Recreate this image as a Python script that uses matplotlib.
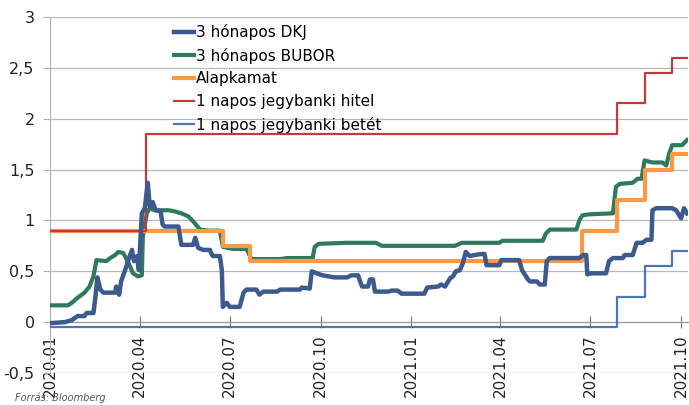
#!/usr/bin/env python
#-*- coding: utf-8 -*-
import matplotlib
matplotlib.use('Agg')
import matplotlib.pyplot as plt
import matplotlib.dates as mdates
import pandas as pd

# 3 honapos DKJ
dkj_dates=['2020-01-01', '2020-01-16', '2020-01-23', '2020-01-29', '2020-02-05', '2020-02-07', '2020-02-14',
           '2020-02-16', '2020-02-18', '2020-02-21', '2020-02-24', '2020-03-07', '2020-03-08', '2020-03-11',
           '2020-03-13', '2020-03-17', '2020-03-20', '2020-03-24', '2020-03-26', '2020-03-29', '2020-03-31',
           '2020-04-03', '2020-04-06', '2020-04-09', '2020-04-11', '2020-04-14', '2020-04-17', '2020-04-22',
           '2020-04-24', '2020-04-26', '2020-05-10', '2020-05-13', '2020-05-25', '2020-05-27', '2020-05-30',
           '2020-06-04', '2020-06-11', '2020-06-12', '2020-06-14', '2020-06-21', '2020-06-23', '2020-06-24',
           '2020-06-28', '2020-07-01', '2020-07-11', '2020-07-15', '2020-07-18', '2020-07-28', '2020-07-31',
           '2020-08-04', '2020-08-18', '2020-08-21', '2020-09-10', '2020-09-12', '2020-09-20', '2020-09-22',
           '2020-09-27', '2020-10-03', '2020-10-15', '2020-10-28', '2020-11-01', '2020-11-08', '2020-11-10',
           '2020-11-12', '2020-11-18', '2020-11-20', '2020-11-23', '2020-11-25', '2020-12-08', '2020-12-12',
           '2020-12-18', '2020-12-22', '2021-01-14', '2021-01-17', '2021-01-28', '2021-01-31', '2021-02-04',
           '2021-02-09', '2021-02-12', '2021-02-15', '2021-02-19', '2021-02-22', '2021-02-25', '2021-03-01',
           '2021-03-06', '2021-03-13', '2021-03-16', '2021-03-18', '2021-03-31', '2021-04-02', '2021-04-20',
           '2021-04-23', '2021-04-29', '2021-05-01', '2021-05-08', '2021-05-11', '2021-05-16', '2021-05-18',
           '2021-05-21', '2021-06-20', '2021-06-24', '2021-06-27', '2021-06-28', '2021-07-02', '2021-07-17',
           '2021-07-20', '2021-07-24', '2021-08-03', '2021-08-05', '2021-08-13', '2021-08-17', '2021-08-23',
           '2021-08-27', '2021-09-01', '2021-09-02', '2021-09-06', '2021-09-22', '2021-09-26', '2021-10-01',
           '2021-10-04', '2021-10-07']
dkj_vals=[-0.01, 0.0, 0.02, 0.06, 0.06, 0.09, 0.09,
          0.25, 0.44, 0.32, 0.29, 0.29, 0.35, 0.27,
          0.40, 0.51, 0.60, 0.71, 0.60, 0.65, 0.51,
          1.07, 1.12, 1.37, 1.14, 1.18, 1.10, 1.09,
          0.96, 0.94, 0.94, 0.76, 0.76, 0.83, 0.73,
          0.71, 0.71, 0.68, 0.65, 0.65, 0.51, 0.15,
          0.19, 0.15, 0.15, 0.29, 0.32, 0.32, 0.27,
          0.30, 0.30, 0.32, 0.32, 0.34, 0.33, 0.50,
          0.48, 0.46, 0.44, 0.44, 0.46, 0.46, 0.40,
          0.35, 0.35, 0.42, 0.42, 0.30, 0.30, 0.31,
          0.31, 0.28, 0.28, 0.34, 0.35, 0.37, 0.35,
          0.43, 0.45, 0.50, 0.51, 0.58, 0.69, 0.65,
          0.66, 0.67, 0.67, 0.56, 0.56, 0.61, 0.61,
          0.51, 0.42, 0.40, 0.40, 0.37, 0.37, 0.60,
          0.63, 0.63, 0.66, 0.66, 0.47, 0.48, 0.48,
          0.60, 0.63, 0.63, 0.66, 0.66, 0.78, 0.78,
          0.81, 0.81, 1.10, 1.12, 1.12, 1.10, 1.02,
          1.12, 1.07]

# 3 honapos BUBOR
bubor_dates=['2020-01-01', '2020-01-19', '2020-01-23', '2020-01-29', '2020-02-05', '2020-02-10', '2020-02-14',
             '2020-02-17', '2020-02-27', '2020-03-02', '2020-03-07', '2020-03-10', '2020-03-15', '2020-03-18',
             '2020-03-22', '2020-03-25', '2020-03-30', '2020-04-03', '2020-04-04', '2020-04-08', '2020-04-11',
             '2020-04-16', '2020-04-30', '2020-05-06', '2020-05-13', '2020-05-20', '2020-05-25', '2020-06-01',
             '2020-06-09', '2020-06-21', '2020-06-24', '2020-07-04', '2020-07-18', '2020-07-23', '2020-08-21',
             '2020-08-28', '2020-09-23', '2020-09-25', '2020-09-29', '2020-10-27', '2020-11-26', '2020-12-02',
             '2021-02-14', '2021-02-21', '2021-03-31', '2021-04-03', '2021-05-14', '2021-05-17', '2021-05-21',
             '2021-06-17', '2021-06-20', '2021-06-23', '2021-06-30', '2021-07-24', '2021-07-27', '2021-07-31',
             '2021-08-13', '2021-08-18', '2021-08-22', '2021-08-25', '2021-09-02', '2021-09-12', '2021-09-16',
             '2021-09-19', '2021-09-22', '2021-10-02', '2021-10-07']
bubor_vals=[0.165, 0.165, 0.19, 0.24, 0.29, 0.35, 0.45,
            0.61, 0.60, 0.63, 0.66, 0.69, 0.68, 0.63,
            0.55, 0.48, 0.45, 0.46, 0.84, 1.07, 1.12,
            1.10, 1.10, 1.09, 1.07, 1.04, 0.99, 0.91,
            0.90, 0.90, 0.74, 0.72, 0.72, 0.62, 0.62,
            0.63, 0.63, 0.74, 0.77, 0.78, 0.78, 0.75,
            0.75, 0.78, 0.78, 0.80, 0.80, 0.87, 0.91,
            0.91, 1.00, 1.05, 1.06, 1.07, 1.33, 1.36,
            1.37, 1.41, 1.41, 1.59, 1.57, 1.57, 1.54,
            1.66, 1.74, 1.74, 1.79]

# Alapkamat
base_dates=['2020-01-01', '2020-06-24', '2020-07-22', '2021-06-23', '2021-07-28', '2021-08-25', '2021-09-22', '2021-10-08']
base_vals=[0.9, 0.75, 0.6, 0.9, 1.2, 1.5, 1.65, 1.65]

# 1 napos jegybanki hitel
lend_dates=['2020-01-01', '2020-04-07', '2021-07-28', '2021-08-25', '2021-09-22', '2021-10-08']
lend_vals=[0.9, 1.85, 2.15, 2.45, 2.6, 2.6]

# 1 napos jegybanki betet
dep_dates=['2020-01-01', '2021-07-28', '2021-08-25', '2021-09-22', '2021-10-08']
dep_vals=[-0.05, 0.25, 0.55, 0.7, 0.7]

xtick_dates=['2020-01-01', '2020-04-01', '2020-07-01', '2020-10-01', '2021-01-01', '2021-04-01', '2021-07-01', '2021-10-01']
yticks=[-0.5, 0, 0.5, 1, 1.5, 2, 2.5, 3]

def drawChart():
    plt.rcParams['font.family']=['DejaVu Sans']
    fig=plt.figure(figsize=(6.89, 4.05), dpi=100)
    ax=fig.add_axes([50/689., 32/405., 638/689., 356/405.])

    ax.plot(pd.to_datetime(dkj_dates), dkj_vals, color='#3d5a8e', linewidth=3.2, label='3 hónapos DKJ', zorder=5)
    ax.plot(pd.to_datetime(bubor_dates), bubor_vals, color='#2f7a5c', linewidth=3.0, label='3 hónapos BUBOR', zorder=3)
    ax.plot(pd.to_datetime(base_dates), base_vals, color='#fb9a45', linewidth=3.0, drawstyle='steps-post', label='Alapkamat', zorder=4)
    ax.plot(pd.to_datetime(lend_dates), lend_vals, color='#c23b3b', linewidth=1.6, drawstyle='steps-post', label='1 napos jegybanki hitel', zorder=4)
    ax.plot(pd.to_datetime(dep_dates), dep_vals, color='#4a78b5', linewidth=1.6, drawstyle='steps-post', label='1 napos jegybanki betét', zorder=4)

    ax.set_xlim(pd.Timestamp('2020-01-01'), pd.Timestamp('2021-10-08'))
    ax.set_ylim(-0.5, 3)
    ax.set_yticks(yticks)
    ax.set_yticklabels([('%g'%v).replace('.', ',') for v in yticks])
    ax.set_xticks(pd.to_datetime(xtick_dates))
    ax.xaxis.set_major_formatter(mdates.DateFormatter('%Y.%m'))
    ax.tick_params(axis='x', labelrotation=90, labelsize=11, labelcolor='#222222',
                   direction='inout', length=8, color='#777777', pad=5)
    ax.tick_params(axis='y', labelsize=11.5, labelcolor='#222222', length=5, color='#b0b0b0', pad=6)

    ax.grid(axis='y', color='#b8b8b8', linewidth=0.9)
    ax.set_axisbelow(True)
    for s in ['top', 'right']:
        ax.spines[s].set_visible(False)
    ax.spines['bottom'].set_position(('data', 0))
    ax.spines['bottom'].set_color('#9a9a9a')
    ax.spines['left'].set_color('#b0b0b0')

    ax.legend(loc='upper left', bbox_to_anchor=(0.195, 0.98), frameon=False, fontsize=11,
              handlelength=1.3, handletextpad=0.1, labelspacing=0.5, borderpad=0, borderaxespad=0)

    fig.text(15/689., 1-398/405., 'Forrás: Bloomberg', fontsize=7, style='italic', color='#555555', va='center')
    fig.savefig('out.png', dpi=100)

if __name__ == "__main__":
    drawChart()
